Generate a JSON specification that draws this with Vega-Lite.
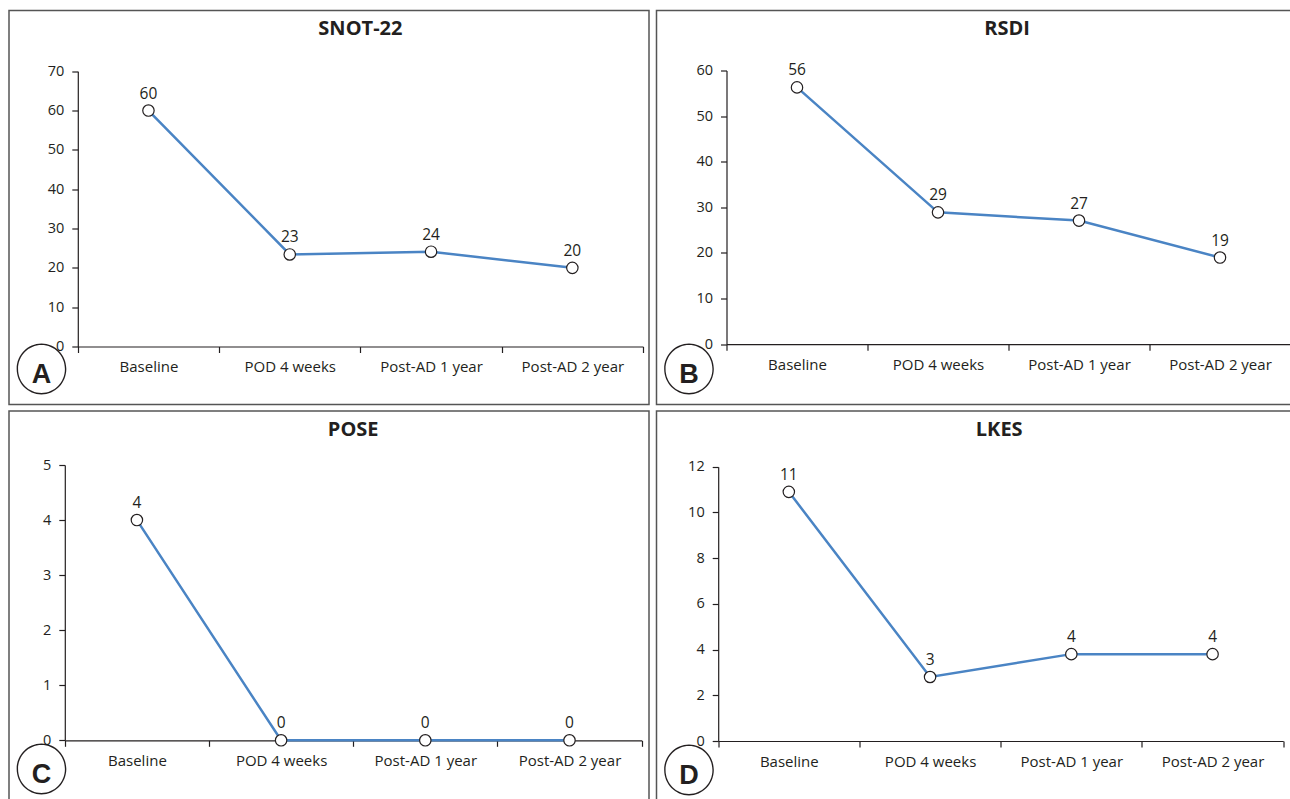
{
  "$schema": "https://vega.github.io/schema/vega-lite/v6.json",
  "background": "white",
  "padding": {"left": 8, "top": 9.5, "right": -3, "bottom": -6},
  "config": {
    "view": {"stroke": "#555555", "strokeWidth": 1.5},
    "font": "Open Sans",
    "axis": {
      "grid": false,
      "domainColor": "#231f20",
      "tickColor": "#231f20",
      "labelColor": "#231f20",
      "labelFont": "Open Sans",
      "labelFontSize": 14.5,
      "tickSize": 6,
      "domainWidth": 1.2,
      "tickWidth": 1.2,
      "titleColor": "#231f20",
      "titleAngle": 0,
      "titleAlign": "center",
      "titleBaseline": "middle"
    },
    "axisX": {"labelPadding": 7, "labelFontSize": 15, "labelAngle": 0, "tickBand": "extent", "titleFont": "Noto Sans CJK JP", "titleFontSize": 54, "titleFontWeight": 100},
    "axisY": {"labelPadding": 8, "titleFont": "Liberation Sans", "titleFontSize": 27, "titleFontWeight": "bold"},
    "title": {"font": "Open Sans", "fontSize": 20, "fontWeight": "bold", "color": "#231f20", "frame": "group", "anchor": "middle", "baseline": "alphabetic", "offset": -28.5}
  },
  "datasets": {
    "snot": [
      {"time": "Baseline", "value": 60.0},
      {"time": "POD 4 weeks", "value": 23.4},
      {"time": "Post-AD 1 year", "value": 24.1},
      {"time": "Post-AD 2 year", "value": 20.0}
    ],
    "rsdi": [
      {"time": "Baseline", "value": 56.3},
      {"time": "POD 4 weeks", "value": 28.9},
      {"time": "Post-AD 1 year", "value": 27.1},
      {"time": "Post-AD 2 year", "value": 19.0}
    ],
    "pose": [
      {"time": "Baseline", "value": 4.0},
      {"time": "POD 4 weeks", "value": 0.0},
      {"time": "Post-AD 1 year", "value": 0.0},
      {"time": "Post-AD 2 year", "value": 0.0}
    ],
    "lkes": [
      {"time": "Baseline", "value": 10.9},
      {"time": "POD 4 weeks", "value": 2.8},
      {"time": "Post-AD 1 year", "value": 3.8},
      {"time": "Post-AD 2 year", "value": 3.8}
    ]
  },
  "vconcat": [
    {
      "spacing": 5.5,
      "hconcat": [
        {
          "width": 640, "height": 394,
          "title": {"text": "SNOT-22", "dx": 31.4},
          "data": {"name": "snot"},
          "encoding": {
            "x": {"field": "time", "type": "nominal", "sort": ["Baseline", "POD 4 weeks", "Post-AD 1 year", "Post-AD 2 year"],
                  "scale": {"type": "band", "range": [68.8, 634], "paddingInner": 0, "paddingOuter": 0},
                  "axis": {"title": "◯", "offset": -58, "titleX": 32, "titleY": 27}},
            "y": {"field": "value", "type": "quantitative",
                  "scale": {"domain": [0, 70], "range": [336, 60.7], "nice": false},
                  "axis": {"values": [0, 10, 20, 30, 40, 50, 60, 70], "offset": -68.8, "title": "A", "titleX": -36.8, "titleY": 364}}
          },
          "layer": [
            {"mark": {"type": "line", "color": "#4a84c4", "strokeWidth": 2.5}},
            {"mark": {"type": "point", "shape": "circle", "filled": true, "fill": "white", "stroke": "#231f20", "strokeWidth": 1.2, "size": 130, "opacity": 1}},
            {"mark": {"type": "text", "dy": -12, "baseline": "alphabetic", "fontSize": 15.5, "color": "#231f20", "font": "Open Sans"},
             "encoding": {"text": {"field": "value", "format": ".0f"}}}
          ]
        },
        {
          "width": 637, "height": 394,
          "title": {"text": "RSDI", "dx": 32},
          "data": {"name": "rsdi"},
          "encoding": {
            "x": {"field": "time", "type": "nominal", "sort": ["Baseline", "POD 4 weeks", "Post-AD 1 year", "Post-AD 2 year"],
                  "scale": {"type": "band", "range": [70, 634], "paddingInner": 0, "paddingOuter": 0},
                  "axis": {"title": "◯", "offset": -60.3, "titleX": 32, "titleY": 29.3}},
            "y": {"field": "value", "type": "quantitative",
                  "scale": {"domain": [0, 60], "range": [333.7, 60], "nice": false},
                  "axis": {"values": [0, 10, 20, 30, 40, 50, 60], "offset": -70, "title": "B", "titleX": -38, "titleY": 364}}
          },
          "layer": [
            {"mark": {"type": "line", "color": "#4a84c4", "strokeWidth": 2.5}},
            {"mark": {"type": "point", "shape": "circle", "filled": true, "fill": "white", "stroke": "#231f20", "strokeWidth": 1.2, "size": 130, "opacity": 1}},
            {"mark": {"type": "text", "dy": -12, "baseline": "alphabetic", "fontSize": 15.5, "color": "#231f20", "font": "Open Sans"},
             "encoding": {"text": {"field": "value", "format": ".0f"}}}
          ]
        }
      ]
    },
    {
      "spacing": 5.5,
      "hconcat": [
        {
          "width": 640, "height": 394,
          "title": {"text": "POSE", "dx": 24.2},
          "data": {"name": "pose"},
          "encoding": {
            "x": {"field": "time", "type": "nominal", "sort": ["Baseline", "POD 4 weeks", "Post-AD 1 year", "Post-AD 2 year"],
                  "scale": {"type": "band", "range": [55.8, 632.6], "paddingInner": 0, "paddingOuter": 0},
                  "axis": {"title": "◯", "offset": -64.7, "titleX": 32, "titleY": 32.7}},
            "y": {"field": "value", "type": "quantitative",
                  "scale": {"domain": [0, 5], "range": [329.3, 54], "nice": false},
                  "axis": {"values": [0, 1, 2, 3, 4, 5], "offset": -55.8, "title": "C", "titleX": -23.8, "titleY": 363}}
          },
          "layer": [
            {"mark": {"type": "line", "color": "#4a84c4", "strokeWidth": 2.5}},
            {"mark": {"type": "point", "shape": "circle", "filled": true, "fill": "white", "stroke": "#231f20", "strokeWidth": 1.2, "size": 130, "opacity": 1}},
            {"mark": {"type": "text", "dy": -12, "baseline": "alphabetic", "fontSize": 15.5, "color": "#231f20", "font": "Open Sans"},
             "encoding": {"text": {"field": "value", "format": ".0f"}}}
          ]
        },
        {
          "width": 637, "height": 394,
          "title": {"text": "LKES", "dx": 24.2},
          "data": {"name": "lkes"},
          "encoding": {
            "x": {"field": "time", "type": "nominal", "sort": ["Baseline", "POD 4 weeks", "Post-AD 1 year", "Post-AD 2 year"],
                  "scale": {"type": "band", "range": [61.7, 626.7], "paddingInner": 0, "paddingOuter": 0},
                  "axis": {"title": "◯", "offset": -64, "titleX": 32, "titleY": 33}},
            "y": {"field": "value", "type": "quantitative",
                  "scale": {"domain": [0, 12], "range": [330, 55.7], "nice": false},
                  "axis": {"values": [0, 2, 4, 6, 8, 10, 12], "offset": -61.7, "title": "D", "titleX": -29.7, "titleY": 364}}
          },
          "layer": [
            {"mark": {"type": "line", "color": "#4a84c4", "strokeWidth": 2.5}},
            {"mark": {"type": "point", "shape": "circle", "filled": true, "fill": "white", "stroke": "#231f20", "strokeWidth": 1.2, "size": 130, "opacity": 1}},
            {"mark": {"type": "text", "dy": -12, "baseline": "alphabetic", "fontSize": 15.5, "color": "#231f20", "font": "Open Sans"},
             "encoding": {"text": {"field": "value", "format": ".0f"}}}
          ]
        }
      ]
    }
  ],
  "spacing": 4.5
}
